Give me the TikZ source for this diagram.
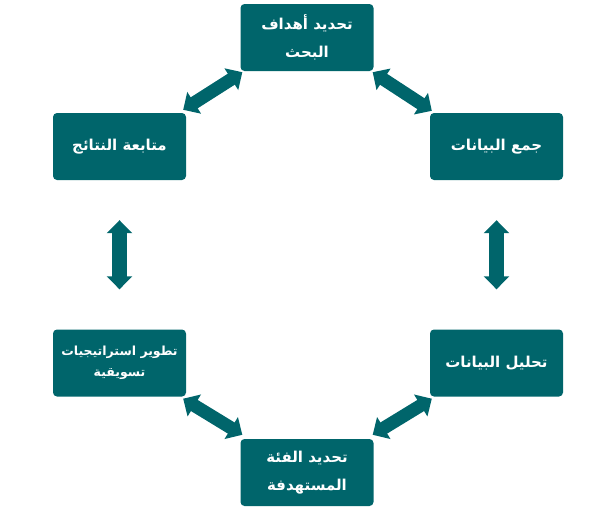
\documentclass[tikz,border=0pt]{standalone}
\usepackage{fontspec}
\TeXXeTstate=1
\newfontfamily\arabicfont[Script=Arabic]{DejaVu Sans Bold}
\usetikzlibrary{arrows.meta,calc}
\definecolor{teal1}{RGB}{0,101,107}
\tikzset{
  box/.style={fill=teal1, rounded corners=4pt, minimum width=133pt, minimum height=67pt,
    text=white, align=center, inner sep=0pt, font=\arabicfont\fontsize{15}{28}\selectfont},
  smallbox/.style={box, font=\arabicfont\fontsize{12.5}{21}\selectfont},
  link/.style={teal1, line width=13pt, {Triangle[length=13pt,width=25pt]}-{Triangle[length=13pt,width=25pt]}},
  vlink/.style={teal1, line width=15pt, {Triangle[length=13pt,width=25pt]}-{Triangle[length=13pt,width=25pt]}}
}
\begin{document}
\begin{tikzpicture}[x=1pt,y=-1pt]
\useasboundingbox (0,0) rectangle (611,512);
\node[box] (t) at (307,37.5) {\beginR تحديد أهداف\endR\\\beginR البحث\endR};
\node[box] (ru) at (496.5,146.5) {\beginR جمع البيانات\endR};
\node[box] (rl) at (496.5,363) {\beginR تحليل البيانات\endR};
\node[box] (b) at (307,472.5) {\beginR تحديد الفئة\endR\\\beginR المستهدفة\endR};
\node[smallbox] (ll) at (119.5,363) {\beginR تطوير استراتيجيات\endR\\\beginR تسويقية\endR};
\node[box] (lu) at (119.5,146.5) {\beginR متابعة النتائج\endR};
\draw[link] ($(t.south west)+(2,1)$) -- ($(lu.north east)+(-3,-3)$);
\draw[link] ($(t.south east)+(-1,1)$) -- ($(ru.north west)+(2,-2)$);
\draw[vlink] ($(ru.south)+(0,40)$) -- ($(rl.north)+(0,-40)$);
\draw[vlink] ($(lu.south)+(0,40)$) -- ($(ll.north)+(0,-40)$);
\draw[link] ($(rl.south west)+(2,2)$) -- ($(b.north east)+(-1,-4)$);
\draw[link] ($(ll.south east)+(-3,2)$) -- ($(b.north west)+(2,-4)$);
\end{tikzpicture}
\end{document}
